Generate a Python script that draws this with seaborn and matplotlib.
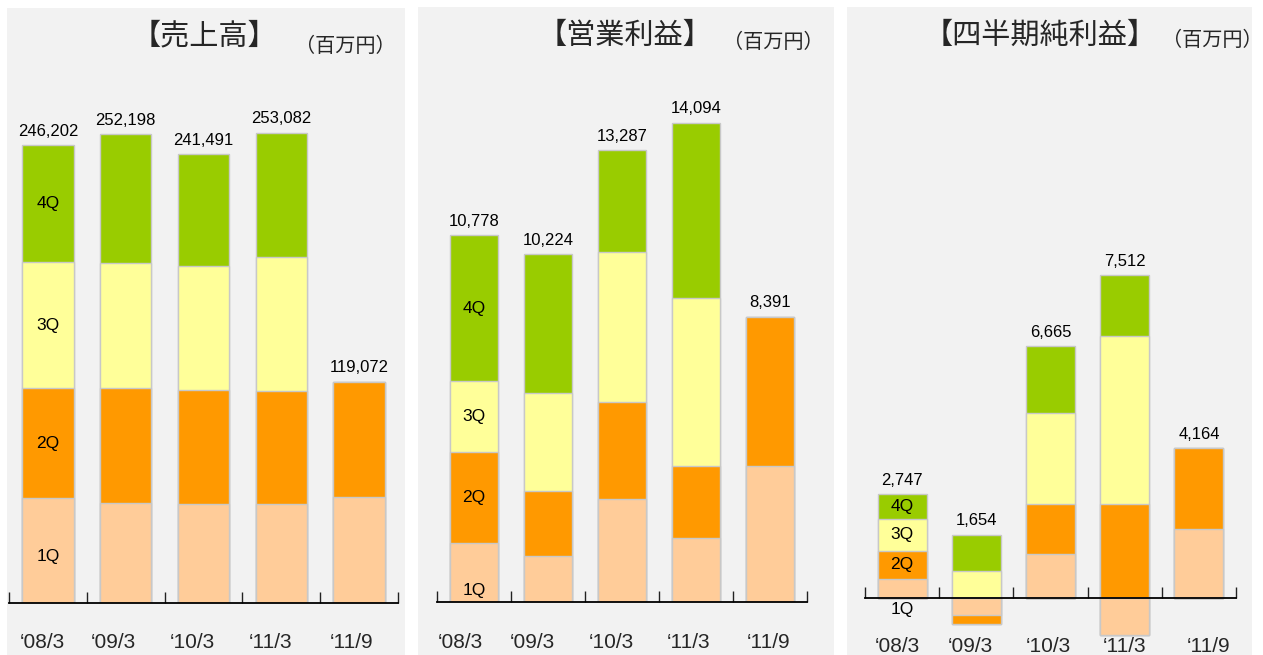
import matplotlib
matplotlib.use('Agg')
import matplotlib.pyplot as plt
from matplotlib.patches import Rectangle
from matplotlib.transforms import ScaledTranslation
import numpy as np
import seaborn as sns

sns.set_style('white')
plt.rcParams['font.family'] = ['Liberation Sans', 'Noto Sans CJK JP', 'DejaVu Sans']

periods = ['08/3', '09/3', '10/3', '11/3', '11/9']
tick_labels = ['‘08/3', '‘09/3', '‘10/3', '‘11/3', '‘11/9']
quarters = ['1Q', '2Q', '3Q', '4Q']
q_colors = ['#FFCC99', '#FF9900', '#FFFF99', '#99CC00']

# 売上高 (百万円)
sales_q1 = [56400, 54000, 53260, 53260, 57200]
sales_q2 = [59100, 61700, 61330, 60790, 61872]
sales_q3 = [67800, 67250, 66710, 72090, 0]
sales_q4 = [62902, 69248, 60191, 66942, 0]
sales_total = ['246,202', '252,198', '241,491', '253,082', '119,072']

# 営業利益 (百万円)
op_q1 = [1735, 1344, 3019, 1893, 3990]
op_q2 = [2667, 1920, 2852, 2096, 4401]
op_q3 = [2087, 2872, 4410, 4939, 0]
op_q4 = [4289, 4088, 3006, 5166, 0]
op_total = ['10,778', '10,224', '13,287', '14,094', '8,391']

# 四半期純利益 (百万円)
net_q1 = [500, -460, 1166, -986, 1830]
net_q2 = [755, -240, 1333, 2478, 2150]
net_q3 = [835, 705, 2412, 4478, 0]
net_q4 = [657, 972, 1754, 1598, 0]
net_total = ['2,747', '1,654', '6,665', '7,512', '4,164']

W, H = 1263, 655
fig = plt.figure(figsize=(W / 100, H / 100), dpi=100)

# grey panel backgrounds
for x0, x1, y0 in [(7, 405, 8), (418, 834, 7), (847, 1252, 7)]:
    fig.patches.append(Rectangle((x0 / W, 0), (x1 - x0) / W, 1 - y0 / H,
                                 transform=fig.transFigure, facecolor='#F2F2F2',
                                 edgecolor='none', zorder=-5))


def draw_panel(layers, totals, x0, x1, base, ybot, scale, pad, q1_shift, label_dx):
    ytop = 95
    ax = fig.add_axes([x0 / W, 1 - ybot / H, (x1 - x0) / W, (ybot - ytop) / H])
    ax.set_facecolor('none')
    data = np.array(layers, dtype=float)
    pos = np.cumsum(np.clip(data, 0, None), axis=0)
    neg = np.cumsum(np.clip(data, None, 0), axis=0)
    # overlap trick: longest cumulative bar first, lower quarters on top
    for stack in (pos, neg):
        if not stack.any():
            continue
        for i in range(3, -1, -1):
            sns.barplot(x=periods, y=stack[i], color=q_colors[i], saturation=1,
                        width=0.66, edgecolor='#C8C8C8', linewidth=1,
                        errorbar=None, ax=ax)
    ax.set_xlim(-0.5, 4.5)
    ax.set_ylim(-(ybot - base) * scale, (base - ytop) * scale)

    for j, txt in enumerate(totals):
        ax.annotate(txt, (j, pos[-1, j]), xytext=(0, 4.5), textcoords='offset points',
                    ha='center', va='bottom', fontsize=12, color='black')

    # quarter names in the first bar
    lo_p, lo_n = 0.0, 0.0
    for i, q in enumerate(quarters):
        v = data[i, 0]
        if v >= 0:
            mid = lo_p + v / 2
            lo_p += v
        else:
            mid = lo_n + v / 2
            lo_n += v
        shift = q1_shift if i == 0 else 0
        ax.annotate(q, (0, mid), xytext=(0, shift), textcoords='offset points',
                    ha='center', va='center', fontsize=12.5, color='black',
                    family=['Liberation Sans Narrow', 'Liberation Sans'])

    for s in ['top', 'left', 'right']:
        ax.spines[s].set_visible(False)
    ax.spines['bottom'].set_position(('data', 0))
    ax.spines['bottom'].set_color('black')
    ax.spines['bottom'].set_linewidth(1.3)
    ax.set_yticks([])
    ax.set_xticks(range(5))
    ax.set_xticklabels(tick_labels, fontsize=15)
    ax.set_xticks(np.arange(-0.5, 5, 1), minor=True)
    ax.tick_params(axis='x', which='major', bottom=True, length=0, pad=pad)
    ax.tick_params(axis='x', which='minor', bottom=True, direction='in', length=8,
                   width=1, color='#222222')
    for lab, dx in zip(ax.get_xticklabels(), label_dx):
        lab.set_transform(lab.get_transform() + ScaledTranslation(dx / 100, 0, fig.dpi_scale_trans))
    ax.set_xlabel('')
    ax.set_ylabel('')
    return ax


draw_panel([sales_q1, sales_q2, sales_q3, sales_q4], sales_total,
           9, 398, 603, 603, 538, 21.5, -4, [-6, -12, -11.5, -11, -7.5])
draw_panel([op_q1, op_q2, op_q3, op_q4], op_total,
           437, 807, 602, 602, 29.4, 22.5, -13, [-14, -16, -11, -7, -1.5])
draw_panel([net_q1, net_q2, net_q3, net_q4], net_total,
           865, 1236, 598, 640, 26.5, 28, -15, [-4.5, -6, -2, 0, 9.5])

title_font = ['Noto Sans CJK JP', 'DejaVu Sans']
for x, txt in [(204, '【売上高】'), (625, '【営業利益】'), (1040, '【四半期純利益】')]:
    fig.text(x / W, 1 - 36 / H, txt, ha='center', va='center', fontsize=21,
             family=title_font)
for x, y, txt in [(345, 46, '（百万円）'), (773, 42, '（百万円）'), (1212, 40, '（百万円）')]:
    fig.text(x / W, 1 - y / H, txt, ha='center', va='center', fontsize=14.5,
             family=title_font)

fig.savefig('out.png', dpi=100)
